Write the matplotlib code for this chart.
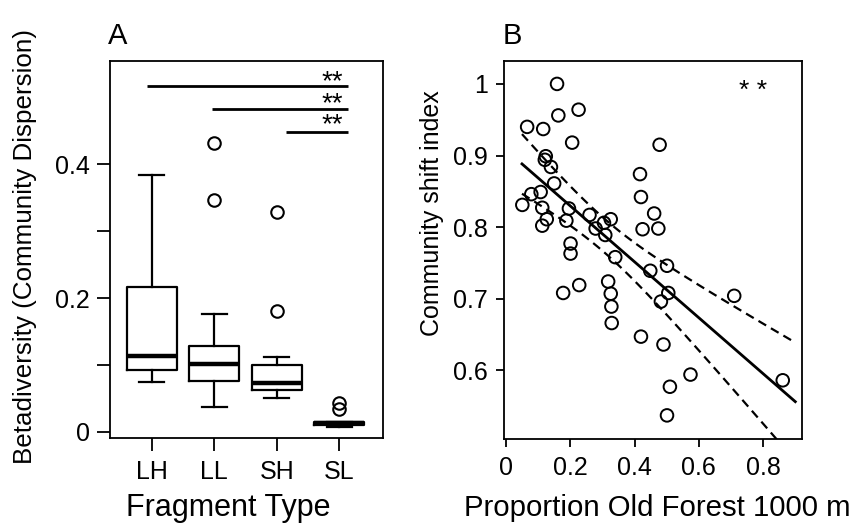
import numpy as np
import matplotlib
matplotlib.use("Agg")
import matplotlib.pyplot as plt

plt.rcParams["font.family"] = ["Liberation Sans", "DejaVu Sans"]

# ----------------------------
# Panel A data (box summaries)
# ----------------------------
frag_types = ["LH", "LL", "SH", "SL"]
q1 = [0.093, 0.0754, 0.062, 0.011]
medians = [0.114, 0.101, 0.0734, 0.013]
q3 = [0.217, 0.128, 0.0997, 0.015]
whisk_lo = [0.0744, 0.0367, 0.051, 0.007]
whisk_hi = [0.384, 0.176, 0.112, 0.015]
outliers = [[], [0.4315, 0.346], [0.329, 0.180], [0.0427, 0.035]]

# significance bars: start group position, end position, height
sig_start = [0.93, 1.96, 3.144]
sig_end = [4.146, 4.146, 4.146]
sig_y = [0.516, 0.483, 0.4475]
sig_mark = ["**", "**", "**"]

# ----------------------------
# Panel B data
# ----------------------------
prop_old = [0.159, 0.163, 0.226, 0.066, 0.116, 0.206, 0.478, 0.124, 0.121, 0.140,
            0.150, 0.417, 0.420, 0.079, 0.108, 0.051, 0.113, 0.196, 0.127, 0.113,
            0.188, 0.260, 0.305, 0.326, 0.279, 0.309, 0.461, 0.425, 0.474, 0.201,
            0.201, 0.340, 0.449, 0.501, 0.505, 0.482, 0.178, 0.228, 0.318, 0.326,
            0.328, 0.329, 0.420, 0.490, 0.510, 0.501, 0.710, 0.574, 0.861]
shift_idx = [1.000, 0.956, 0.964, 0.940, 0.937, 0.918, 0.915, 0.899, 0.894, 0.884,
             0.861, 0.874, 0.842, 0.846, 0.849, 0.831, 0.827, 0.826, 0.811, 0.802,
             0.809, 0.817, 0.806, 0.811, 0.798, 0.789, 0.819, 0.797, 0.798, 0.777,
             0.763, 0.758, 0.739, 0.746, 0.708, 0.696, 0.708, 0.719, 0.724, 0.707,
             0.689, 0.666, 0.647, 0.636, 0.577, 0.537, 0.704, 0.594, 0.586]

x = np.array(prop_old)
y = np.array(shift_idx)

# linear fit with 95% confidence band
slope, intercept = np.polyfit(x, y, 1)
n = len(x)
resid = y - (intercept + slope * x)
s = np.sqrt(np.sum(resid**2) / (n - 2))
sxx = np.sum((x - x.mean())**2)
t_crit = 2.012
xg = np.linspace(0.05, 0.9, 100)
fit = intercept + slope * xg
se = s * np.sqrt(1.0 / n + (xg - x.mean())**2 / sxx)
upper = fit + t_crit * se
lower = fit - t_crit * se

# ----------------------------
# Figure
# ----------------------------
fig = plt.figure(figsize=(8.63, 5.25), dpi=100)
axA = fig.add_axes([0.1275, 0.1657, 0.3163, 0.718])
axB = fig.add_axes([0.584, 0.1638, 0.345, 0.72])

# Panel A
stats = []
for i in range(4):
    stats.append({"med": medians[i], "q1": q1[i], "q3": q3[i],
                  "whislo": whisk_lo[i], "whishi": whisk_hi[i],
                  "fliers": outliers[i], "label": frag_types[i]})

axA.bxp(stats, positions=[1, 2, 3, 4], widths=0.8, showfliers=True,
        boxprops=dict(color="black", linewidth=1.6),
        medianprops=dict(color="black", linewidth=3.2, solid_capstyle="butt"),
        whiskerprops=dict(color="black", linewidth=1.6),
        capprops=dict(color="black", linewidth=1.6),
        capwidths=0.4,
        flierprops=dict(marker="o", markersize=9, markerfacecolor="none",
                        markeredgecolor="black", markeredgewidth=1.5))

for xs, xe, yy in zip(sig_start, sig_end, sig_y):
    axA.plot([xs, xe], [yy, yy], color="black", lw=2.0, solid_capstyle="butt")

# stars stacked in one text block; baseline anchors the lowest line
axA.text(3.89, sig_y[-1] + 0.0, "\n".join(sig_mark), fontsize=20,
         ha="center", va="baseline", linespacing=0.77)

axA.set_xlim(0.333, 4.7)
axA.set_ylim(-0.009, 0.554)
axA.set_xticks([1, 2, 3, 4])
axA.set_xticklabels(frag_types)
axA.set_yticks([0, 0.1, 0.2, 0.3, 0.4])
axA.set_yticklabels(["0", "", "0.2", "", "0.4"])
axA.tick_params(axis="both", length=9.5, width=1.3, labelsize=18, pad=5)
axA.tick_params(axis="x", pad=6)
for sp in axA.spines.values():
    sp.set_linewidth(1.3)

# Panel B
axB.scatter(prop_old, shift_idx, s=82, facecolors="none", edgecolors="black",
            linewidths=1.4, zorder=3)
axB.plot(xg, fit, color="black", lw=2.0)
axB.plot(xg, upper, color="black", lw=1.6, ls=(0, (4, 2.5)))
axB.plot(xg, lower, color="black", lw=1.6, ls=(0, (4, 2.5)))
axB.text(0.768, 0.99, "* *", fontsize=19, ha="center", va="center")

axB.set_xlim(-0.006, 0.92)
axB.set_ylim(0.504, 1.032)
axB.set_xticks([0, 0.2, 0.4, 0.6, 0.8])
axB.set_xticklabels(["0", "0.2", "0.4", "0.6", "0.8"])
axB.set_yticks([0.6, 0.7, 0.8, 0.9, 1.0])
axB.set_yticklabels(["0.6", "0.7", "0.8", "0.9", "1"])
axB.tick_params(axis="both", length=5.5, width=1.3, labelsize=18, pad=6)
axB.tick_params(axis="x", pad=7)
for sp in axB.spines.values():
    sp.set_linewidth(1.3)

# labels
fig.text(25 / 863, 1 - 247 / 525, "Betadiversity (Community Dispersion)",
         rotation=90, fontsize=18.7, ha="center", va="center")
fig.text(228 / 863, 1 - 508 / 525, "Fragment Type", fontsize=22,
         ha="center", va="center")
fig.text(432 / 863, 1 - 213 / 525, "Community shift index",
         rotation=90, fontsize=18, ha="center", va="center")
fig.text(657 / 863, 1 - 508 / 525, "Proportion Old Forest 1000 m", fontsize=21.2,
         ha="center", va="center")
fig.text(118 / 863, 1 - 36 / 525, "A", fontsize=21, ha="center", va="center")
fig.text(512 / 863, 1 - 36 / 525, "B", fontsize=21, ha="center", va="center")

fig.savefig("out.png", dpi=100)
